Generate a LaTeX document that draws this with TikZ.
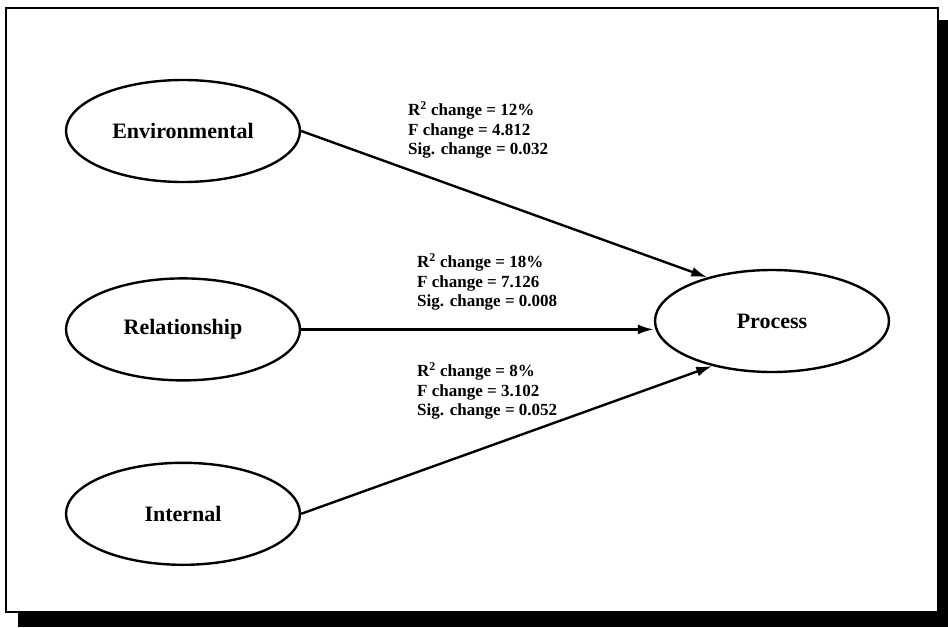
\documentclass[tikz,border=0pt]{standalone}
\usepackage{fontspec}
\setmainfont{Liberation Serif}
\usetikzlibrary{positioning,arrows.meta,shapes.geometric}

\begin{document}
\begin{tikzpicture}[x=1pt, y=-1pt, > = {Latex[length=16pt,width=10pt]},
  var/.style={ellipse, draw, line width=2.4pt, minimum width=234pt, minimum height=102pt, inner sep=0pt, font=\fontsize{22}{26}\selectfont\bfseries},
  stat/.style={anchor=west, align=left, inner sep=0pt, font=\fontsize{17}{19.5}\selectfont\bfseries},
  link/.style={->, line width=2.4pt}]
\useasboundingbox (0,0) rectangle (948,627);
\fill (18,20) rectangle (948,627);
\draw[line width=2.5pt, fill=white] (6,8) rectangle (938,612);

\node (env) [var] at (183,131) {Environmental};
\node (rel) [var, below=94pt of env] {Relationship};
\node (int) [var, below=80pt of rel] {Internal};
\node (proc) [var] at (772,321) {Process};

\node (envstat) [stat] at (408,130) {R\textsuperscript{2} change = 12\%\\F change = 4.812\\Sig. change = 0.032};
\node (relstat) [stat] at (417,282) {R\textsuperscript{2} change = 18\%\\F change = 7.126\\Sig. change = 0.008};
\node (intstat) [stat] at (417,391) {R\textsuperscript{2} change = 8\%\\F change = 3.102\\Sig. change = 0.052};

\draw[link] (env.east) -- (proc.146);
\draw[link] (rel.east) -- (rel.east -| proc.west);
\draw[link] (int.east) -- (proc.217);
\end{tikzpicture}
\end{document}
